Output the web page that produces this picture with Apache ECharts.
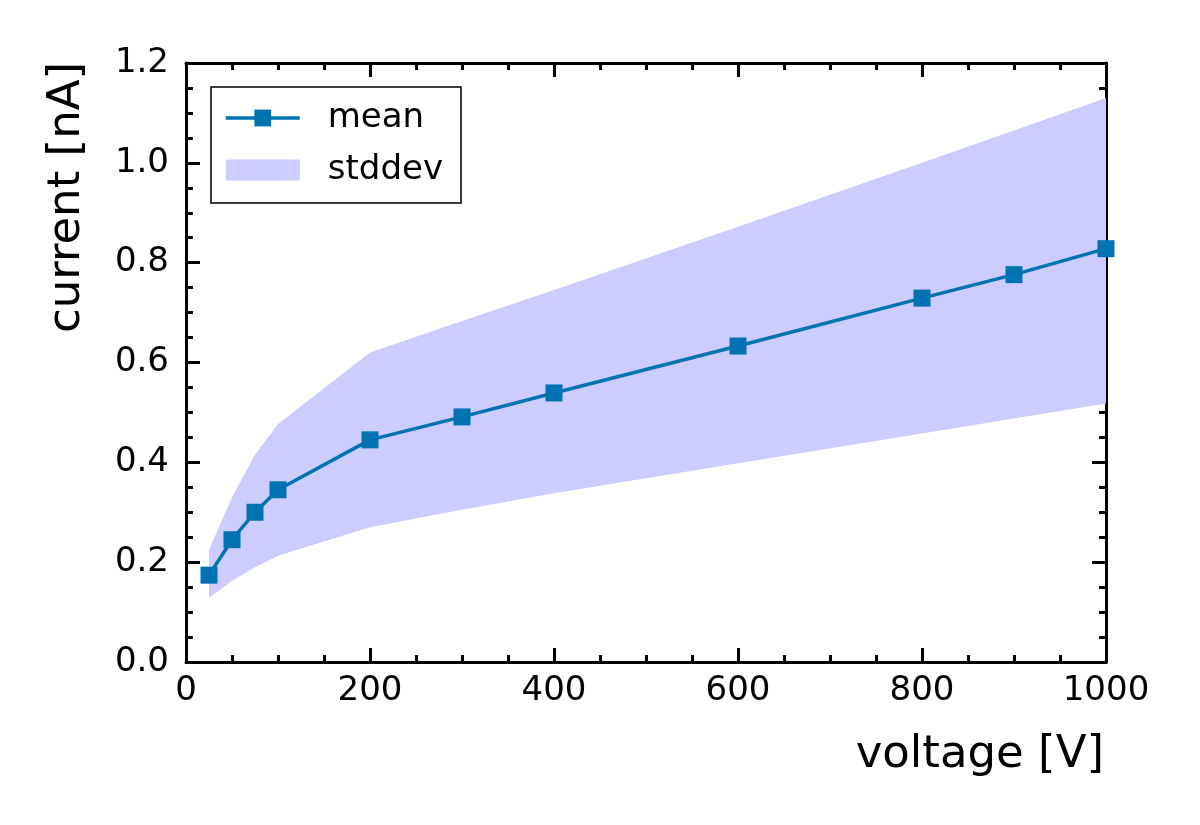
<!DOCTYPE html>
<html>
<head>
<meta charset="utf-8">
<script src="https://cdn.jsdelivr.net/npm/echarts@6/dist/echarts.min.js"></script>
<style>
  html, body { margin: 0; padding: 0; background: #fff; }
  #chart { width: 1200px; height: 825px; }
</style>
</head>
<body>
<div id="chart"></div>
<script>
// voltage steps [V]
const voltage = [25, 50, 75, 100, 200, 300, 400, 600, 800, 900, 1000];
// mean current [nA]
const meanCurrent = [0.174, 0.245, 0.300, 0.345, 0.445, 0.491, 0.539, 0.633, 0.729, 0.776, 0.828];
// stddev band edges [nA]
const bandLower = [0.128, 0.163, 0.190, 0.213, 0.270, 0.305, 0.338, 0.398, 0.458, 0.488, 0.518];
const bandUpper = [0.225, 0.330, 0.415, 0.477, 0.620, 0.683, 0.745, 0.872, 1.000, 1.065, 1.130];

const FONT = 'DejaVu Sans';
const LINE_COLOR = '#0173b2';
const BAND_COLOR = '#ccccff';

const chart = echarts.init(document.getElementById('chart'));

function xAxisCfg(pos, showLabels) {
    return {
        type: 'value', position: pos, min: 0, max: 1000, interval: 200,
        axisLine: { show: true, onZero: false, lineStyle: { color: '#000', width: 3 } },
        axisTick: { show: true, inside: true, length: 14, lineStyle: { color: '#000', width: 3 } },
        minorTick: { show: true, splitNumber: 4, length: 7, lineStyle: { color: '#000', width: 3 } },
        axisLabel: { show: showLabels, margin: 12, fontFamily: FONT, fontSize: 34, color: '#000',
                     formatter: v => String(v) },
        splitLine: { show: false }, minorSplitLine: { show: false }
    };
}

function yAxisCfg(pos, showLabels) {
    return {
        type: 'value', position: pos, min: 0, max: 1.2, interval: 0.2,
        axisLine: { show: true, onZero: false, lineStyle: { color: '#000', width: 3 } },
        axisTick: { show: true, inside: true, length: 14, lineStyle: { color: '#000', width: 3 } },
        minorTick: { show: true, splitNumber: 4, length: 7, lineStyle: { color: '#000', width: 3 } },
        axisLabel: { show: showLabels, margin: 17, fontFamily: FONT, fontSize: 34, color: '#000',
                     formatter: v => v.toFixed(1) },
        splitLine: { show: false }, minorSplitLine: { show: false }
    };
}

const option = {
    animation: false,
    backgroundColor: '#fff',
    grid: { left: 186, right: 94, top: 63, bottom: 163, containLabel: false },
    xAxis: [xAxisCfg('bottom', true), xAxisCfg('top', false)],
    yAxis: [yAxisCfg('left', true), yAxisCfg('right', false)],
    legend: {
        left: 211, top: 87, orient: 'vertical',
        borderColor: '#000', borderWidth: 1.5, borderRadius: 0,
        padding: [11, 18, 13, 13],
        itemWidth: 74, itemHeight: 21, itemGap: 12,
        lineStyle: { width: 3.5 },
        textStyle: { fontFamily: FONT, fontSize: 34, color: '#000', lineHeight: 40, padding: [0, 0, 0, 23] },
        data: [
            { name: 'mean' },
            { name: 'stddev', icon: 'rect', itemStyle: { color: BAND_COLOR } }
        ]
    },
    graphic: [
        {
            type: 'text', x: 67, y: 62, rotation: Math.PI / 2,
            style: { text: 'current [nA]', fontFamily: FONT, fontSize: 45, fill: '#000',
                     align: 'right', verticalAlign: 'middle' }
        },
        {
            type: 'text', x: 1104, y: 755,
            style: { text: 'voltage [V]', fontFamily: FONT, fontSize: 45, fill: '#000',
                     align: 'right', verticalAlign: 'middle' }
        }
    ],
    series: [
        {
            name: 'stddev', type: 'custom', silent: true, z: 1,
            data: [[0, 0]],
            itemStyle: { color: BAND_COLOR },
            renderItem: (params, api) => {
                const pts = voltage.map((v, i) => api.coord([v, bandUpper[i]]));
                for (let i = voltage.length - 1; i >= 0; i--) {
                    pts.push(api.coord([voltage[i], bandLower[i]]));
                }
                return { type: 'polygon', shape: { points: pts }, style: { fill: BAND_COLOR } };
            }
        },
        {
            name: 'mean', type: 'line',
            data: voltage.map((v, i) => [v, meanCurrent[i]]),
            symbol: 'rect', symbolSize: 17,
            lineStyle: { color: LINE_COLOR, width: 3.5 },
            itemStyle: { color: LINE_COLOR },
            z: 3
        }
    ]
};

chart.setOption(option);
</script>
</body>
</html>
